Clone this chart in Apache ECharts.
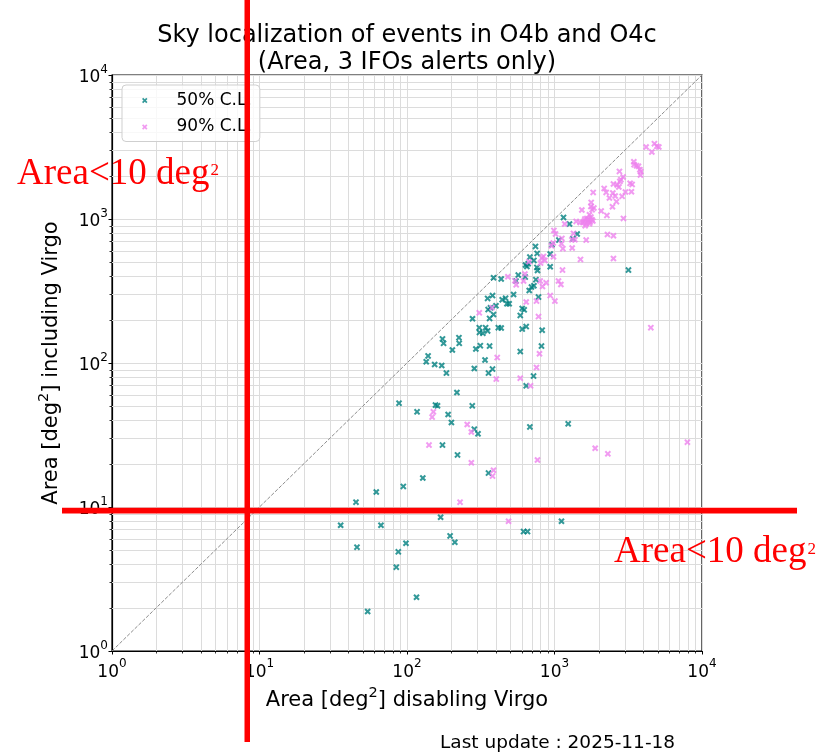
<!DOCTYPE html>
<html>
<head>
<meta charset="utf-8">
<script src="https://cdn.jsdelivr.net/npm/echarts@6/dist/echarts.min.js"></script>
<style>
html, body { margin: 0; padding: 0; background: #fff; }
#chart { width: 827px; height: 752px; }
</style>
</head>
<body>
<div id="chart"></div>
<script>
// 50% C.L. areas, deg^2 (x: Virgo disabled, y: Virgo included)
const area50Disabled = [35.5, 45.1, 45.8, 54.1, 61.9, 66.6, 84.6, 87.3, 94.4, 98.4, 116, 128, 169, 196, 211, 357, 617, 656, 1115,
  88.3, 117, 156, 161, 190, 200, 277, 218, 286, 303, 174, 220, 681, 1238, 643, 721, 357, 380, 586, 338, 286,
  185, 154, 172, 135, 139, 203, 174, 177, 225, 226, 293, 314, 363, 309, 310, 327, 341, 352, 278, 363,
  386, 416, 435, 355, 368, 352, 380, 401, 442, 466, 476, 493, 528, 586, 604, 623, 604, 643, 825, 779,
  674, 698, 725, 548, 386, 435, 1151, 1264, 1425, 1332, 1071, 960, 935, 743, 763, 681, 636, 650, 663, 725,
  760, 767, 935, 568, 633, 748, 3172, 816];
const area50Including = [7.47, 10.8, 5.26, 1.88, 12.7, 7.47, 3.82, 4.88, 13.9, 5.6, 2.36, 15.9, 8.49, 6.3, 5.69, 17.2, 6.75, 6.75, 7.96,
  52.6, 45.8, 51.0, 50.4, 43.9, 38.6, 50.4, 62.4, 34.7, 32.2, 26.9, 23.0, 36.0, 37.8, 69.4, 81.1, 85.1, 90.7, 120, 105, 91.6,
  85.1, 97.6, 96.1, 102, 112, 123, 147, 137, 150, 137, 125, 132, 131, 176, 163, 161, 176, 167, 203, 204,
  217, 176, 175, 235, 242, 281, 294, 250, 275, 282, 258, 258, 299, 214, 239, 234, 172, 179, 169, 287,
  319, 337, 344, 371, 391, 383, 1026, 923, 787, 729, 714, 663, 571, 645, 577, 544, 479, 468, 489, 516,
  461, 439, 466, 408, 395, 379, 442, 131];

// 90% C.L. areas, deg^2
const area90Disabled = [229, 488, 273, 386, 380, 767, 151, 148, 256, 273, 141, 1887, 2300, 7962, 4499, 309, 377, 409, 403, 586,
  688, 755, 791, 779, 755, 643, 935, 1006, 829, 550, 617, 800, 878, 1064, 1105, 483, 630, 539, 984, 1500,
  1133, 2510, 2286, 2510, 991, 1016, 1345, 1122, 1312, 1375, 1640, 980, 954, 1115, 1140, 1318, 842, 821, 804, 861,
  671, 1173, 4180, 4570, 4759, 4940, 5097, 3450, 3466, 3593, 3708, 3790, 3849, 3825, 2756, 2920, 3256, 3360, 3323, 3027,
  2874, 2817, 2510, 2659, 2773, 2731, 2172, 2240, 2358, 2578, 2486, 2630, 2471, 1829, 1773, 1765, 1849, 1800, 1533, 2072,
  2265, 2934, 1726, 1765, 1658, 1607, 1699, 1792, 1589, 1673, 1745, 1557, 1640, 1726, 1820, 1403, 1493, 1614];
const area90Including = [10.8, 7.96, 20.3, 18.0, 16.4, 21.2, 45.8, 42.1, 37.4, 33.2, 26.9, 25.6, 23.4, 28.2, 176, 223, 242, 109, 77.3, 78.5,
  69.4, 93.0, 116, 210, 269, 265, 294, 269, 340, 349, 371, 371, 361, 371, 351, 397, 415, 373, 547, 524,
  442, 532, 781, 765, 833, 787, 794, 733, 718, 718, 714, 681, 652, 673, 622, 629, 550, 536, 494, 516,
  505, 923, 3164, 2921, 3336, 3195, 3164, 2500, 2384, 2346, 2320, 2200, 2131, 2022, 2141, 1957, 1768, 1739, 1547, 1540,
  1436, 1875, 1751, 1722, 1825, 1668, 1631, 1530, 1399, 1444, 1515, 1319, 1217, 1530, 1304, 1223, 1192, 1160, 1154, 1136,
  1059, 1009, 1071, 1032, 1009, 1000, 989, 989, 968, 962, 953, 947, 927, 927, 968, 962, 947, 898];

const diagonal = [1, 10000];
const minorSteps = [2, 3, 4, 5, 6, 7, 8, 9];
const decades = [1, 10, 100, 1000];
const lastUpdate = '2025-11-18';

const crossPath = 'path://M0,2.2 L2.2,0 L5,2.8 L7.8,0 L10,2.2 L7.2,5 L10,7.8 L7.8,10 L5,7.2 L2.2,10 L0,7.8 L2.8,5 Z';
const font = 'DejaVu Sans';
const gridColor = '#dcdcdc';

let minorValues = [];
decades.forEach(function (d) {
  minorSteps.forEach(function (s) { minorValues.push(s * d); });
});

function pairs(xs, ys) {
  return xs.map(function (x, i) { return [x, ys[i]]; });
}

const tickRich = {
  a: { fontSize: 17, fontFamily: font, color: '#000', verticalAlign: 'bottom' },
  s: { fontSize: 12, fontFamily: font, color: '#000', verticalAlign: 'top', padding: [0, 0, 11, 0] }
};
const nameRich = {
  n: { fontSize: 21, fontFamily: font, color: '#000', verticalAlign: 'bottom' },
  p: { fontSize: 14.5, fontFamily: font, color: '#000', verticalAlign: 'top', padding: [0, 0, 10, 0] }
};

function powLabel(v) {
  return '{a|10}{s|' + Math.round(Math.log10(v)) + '}';
}

function minorLines(isX) {
  return function (params, api) {
    const cs = params.coordSys;
    const v = api.value(isX ? 0 : 1);
    const p = api.coord(isX ? [v, 1] : [1, v]);
    const gs = { stroke: gridColor, lineWidth: 1 };
    const ts = { stroke: '#000', lineWidth: 0.8 };
    if (isX) {
      const x = Math.round(p[0]) + 0.5;
      const b = cs.y + cs.height;
      return { type: 'group', children: [
        { type: 'line', shape: { x1: x, y1: cs.y, x2: x, y2: b }, style: gs },
        { type: 'line', shape: { x1: x, y1: b, x2: x, y2: b + 2.5 }, style: ts }
      ] };
    }
    const y = Math.round(p[1]) + 0.5;
    return { type: 'group', children: [
      { type: 'line', shape: { x1: cs.x, y1: y, x2: cs.x + cs.width, y2: y }, style: gs },
      { type: 'line', shape: { x1: cs.x - 2.5, y1: y, x2: cs.x, y2: y }, style: ts }
    ] };
  };
}

function logAxis(name, gap, labelMargin) {
  return {
    type: 'log',
    logBase: 10,
    min: 1,
    max: 10000,
    name: name,
    nameLocation: 'middle',
    nameGap: gap,
    nameTextStyle: { rich: nameRich },
    axisLine: { lineStyle: { color: '#000', width: 1.2 } },
    axisTick: { length: 3.5, lineStyle: { color: '#000', width: 1 } },
    axisLabel: { margin: labelMargin, formatter: powLabel, rich: tickRich },
    splitLine: { show: true, lineStyle: { color: gridColor, width: 1 } }
  };
}

const redText = {
  m: { fontSize: 37, fontFamily: 'Liberation Serif', fill: '#ff0000' },
  s: { fontSize: 17, fontFamily: 'Liberation Serif', fill: '#ff0000', verticalAlign: 'top', padding: [7, 0, 0, 1] }
};

const chart = echarts.init(document.getElementById('chart'));
chart.setOption({
  animation: false,
  backgroundColor: '#fff',
  title: [{
    text: 'Sky localization of events in O4b and O4c\n(Area, 3 IFOs alerts only)',
    left: 402,
    top: 17,
    textAlign: 'center',
    textStyle: { fontSize: 24, fontWeight: 'normal', fontFamily: font, color: '#000', lineHeight: 27 }
  }, {
    text: 'Last update : ' + lastUpdate,
    left: 435,
    top: 729,
    textStyle: { fontSize: 18.5, fontWeight: 'normal', fontFamily: font, color: '#000' }
  }],
  legend: {
    orient: 'vertical',
    left: 122,
    top: 85,
    padding: [7, 8, 6, 20],
    itemWidth: 5.5,
    itemHeight: 5.5,
    itemGap: 9.5,
    backgroundColor: 'rgba(255,255,255,0.8)',
    borderColor: '#cfcfcf',
    borderWidth: 1,
    borderRadius: 4,
    textStyle: { fontSize: 17, fontFamily: font, color: '#000', lineHeight: 17, padding: [0, 0, 0, 24] },
    data: [
      { name: '50% C.L.', icon: crossPath },
      { name: '90% C.L.', icon: crossPath }
    ]
  },
  grid: {
    left: 112, right: 125, top: 75, bottom: 101,
    show: true, borderColor: '#000', borderWidth: 1.2, backgroundColor: 'transparent'
  },
  xAxis: logAxis('{n|Area [deg}{p|2}{n|] disabling Virgo}', 34, 7),
  yAxis: logAxis('{n|Area [deg}{p|2}{n|] including Virgo}', 50, 4),
  series: [
    {
      type: 'custom', silent: true, z: 1, clip: false,
      renderItem: minorLines(true),
      data: minorValues.map(function (v) { return [v, 1]; })
    },
    {
      type: 'custom', silent: true, z: 1, clip: false,
      renderItem: minorLines(false),
      data: minorValues.map(function (v) { return [1, v]; })
    },
    {
      type: 'line', silent: true, z: 2, symbol: 'none',
      lineStyle: { color: '#8c8c8c', width: 1, type: [3.7, 1.6] },
      data: pairs(diagonal, diagonal)
    },
    {
      name: '50% C.L.', type: 'scatter', z: 3,
      symbol: crossPath, symbolSize: 6.5,
      itemStyle: { color: '#008080' },
      data: pairs(area50Disabled, area50Including)
    },
    {
      name: '90% C.L.', type: 'scatter', z: 3,
      symbol: crossPath, symbolSize: 6.5,
      itemStyle: { color: '#ee82ee' },
      data: pairs(area90Disabled, area90Including)
    }
  ],
  graphic: [
    { type: 'rect', z: 100, shape: { x: 244.5, y: 0, width: 5.5, height: 742 }, style: { fill: '#ff0000' } },
    { type: 'rect', z: 100, shape: { x: 62, y: 507.7, width: 735, height: 5.7 }, style: { fill: '#ff0000' } },
    { type: 'text', z: 100, x: 17, y: 174,
      style: { text: '{m|Area<10 deg}{s|2}', rich: redText, verticalAlign: 'middle', fill: '#ff0000' } },
    { type: 'text', z: 100, x: 614, y: 552.5,
      style: { text: '{m|Area<10 deg}{s|2}', rich: redText, verticalAlign: 'middle', fill: '#ff0000' } }
  ]
});
</script>
</body>
</html>
